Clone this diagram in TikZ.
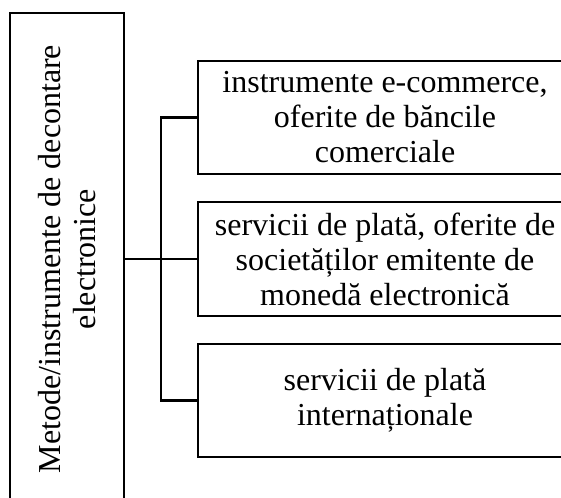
\documentclass[tikz,border=0pt]{standalone}
\usepackage{fontspec}
\setmainfont{Liberation Serif}
\begin{document}
\begin{tikzpicture}[x=1pt,y=-1pt,
  boxst/.style={draw, line width=2.2pt, rectangle, inner sep=0pt, align=center,
    font=\fontsize{32}{35}\selectfont},
  wire/.style={line width=2.2pt}]
\useasboundingbox (0,0) rectangle (561,497);
\clip (0,0) rectangle (561,497);
\node[boxst, rotate=90, minimum width=492pt, minimum height=114pt] (L) at (67,259)
  {Metode/instrumente de decontare\\electronice};
\node[boxst, minimum width=374pt, minimum height=113pt] (b1) at (385,117.5)
  {instrumente e-commerce,\\oferite de băncile\\comerciale};
\node[boxst, minimum width=374pt, minimum height=114pt] (b2) at (385,259)
  {servicii de plată, oferite de\\societăților emitente de\\monedă electronică};
\node[boxst, minimum width=374pt, minimum height=113pt] (b3) at (385,400.5)
  {servicii de plată\\internaționale};
\coordinate (bus) at (161,259);
\draw[wire] (L.south) -- (b2.west);
\draw[wire] (b1.west) -| (bus) |- (b3.west);
\end{tikzpicture}
\end{document}
